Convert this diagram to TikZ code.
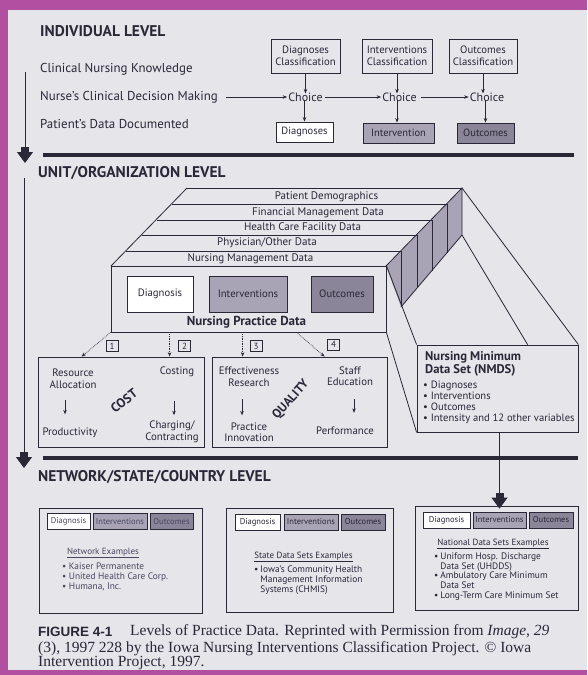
\documentclass[tikz,border=0pt]{standalone}
\usepackage{fontspec}
\setmainfont{Liberation Serif}
\newfontfamily\dsans{PT Sans}
\newfontfamily\capsans{Liberation Sans}
\usetikzlibrary{arrows.meta,calc}
\definecolor{ink}{HTML}{2A2737}
\definecolor{bg}{HTML}{E6E5EA}
\definecolor{mag}{HTML}{B24FA0}
\definecolor{gA}{HTML}{A8A4B5}
\definecolor{gB}{HTML}{8A8598}
\definecolor{fade}{HTML}{4A4660}
\tikzset{
  every node/.style={text=ink, inner sep=0pt},
  head/.style={font=\dsans\bfseries\fontsize{15.5}{17}\selectfont, anchor=west},
  side/.style={font=\dsans\fontsize{12.9}{14}\selectfont, anchor=west},
  cls/.style={draw=ink, line width=0.8pt, font=\dsans\fontsize{10.7}{11.5}\selectfont, align=center},
  bx/.style={draw=ink, line width=0.8pt, font=\dsans\fontsize{10.5}{11.5}\selectfont, align=center},
  ch/.style={font=\dsans\fontsize{12}{13}\selectfont},
  lay/.style={font=\dsans\fontsize{11}{12}\selectfont},
  ibox/.style={draw=ink, line width=0.8pt, font=\dsans\fontsize{10.7}{12}\selectfont},
  sbox/.style={draw=ink, line width=0.7pt, font=\dsans\fontsize{8.5}{9}\selectfont, minimum height=16},
  txt/.style={font=\dsans\fontsize{10.8}{11.5}\selectfont, align=center},
  bul/.style={font=\dsans\fontsize{9.4}{10}\selectfont, align=left, anchor=west},
  shead/.style={font=\dsans\fontsize{9}{10}\selectfont},
  num/.style={draw=ink, line width=0.6pt, font=\dsans\fontsize{9}{10}\selectfont, minimum width=12, minimum height=11},
  frame/.style={draw=ink, line width=0.8pt},
  ln/.style={draw=ink, line width=0.8pt},
  arr/.style={draw=ink, line width=0.7pt, -{Stealth[length=4.5pt,width=3.5pt]}},
  dotarr/.style={draw=ink, line width=0.7pt, densely dotted, -{Stealth[length=4.5pt,width=3.5pt]}},
  fat/.style={draw=ink, line width=0.9pt, -{Rectangle[length=5pt,width=8pt]Triangle[length=11pt,width=16pt]}},
  bar/.style={draw=ink, line width=4pt},
  captxt/.style={font=\fontsize{15.5}{16}\selectfont, anchor=west},
}
\begin{document}
\begin{tikzpicture}[x=1pt,y=-1pt]
\fill[mag] (0,0) rectangle (587,675);
\fill[bg] (8,10) rectangle (587,670);
\useasboundingbox (0,0) rectangle (587,675);

% ---------- INDIVIDUAL LEVEL ----------
\node[head] (ind) at (40,31) {INDIVIDUAL LEVEL};
\node[side] (cnk) at (40,69) {Clinical Nursing Knowledge};
\node[side] (ncd) at (40,97) {Nurse’s Clinical Decision Making};
\node[side] (pdd) at (40,124) {Patient’s Data Documented};

\node[cls, minimum width=69, minimum height=34] (dc) at (305.5,56) {Diagnoses\\Classification};
\node[cls, minimum width=70, minimum height=34] (ic) at (397,56) {Interventions\\Classification};
\node[cls, minimum width=68, minimum height=34] (oc) at (483,56) {Outcomes\\Classification};

\node[ch] (ch1) at (305.5,97) {Choice};
\node[ch] (ch2) at (399.5,97) {Choice};
\node[ch] (ch3) at (487,97) {Choice};

\node[bx, fill=white, minimum width=57, minimum height=20] (db) at (304.5,132) {Diagnoses};
\node[bx, fill=gA, minimum width=71, minimum height=20] (ib) at (398.5,133) {Intervention};
\node[bx, fill=gB, minimum width=57, minimum height=20] (ob) at (485.5,133) {Outcomes};

\draw[arr] (dc.south) -- ([yshift=-1pt]dc.south |- ch1.north);
\draw[arr] (ic.south) -- ([yshift=-1pt]ic.south |- ch2.north);
\draw[arr] (oc.south) -- ([yshift=-1pt]oc.south |- ch3.north);
\draw[arr] ([yshift=2pt]db.north |- ch1.south) -- (db.north);
\draw[arr] ([yshift=2pt]ic.south |- ch2.south) -- (ic.south |- ib.north);
\draw[arr] ([yshift=2pt]ob.north |- ch3.south) -- (ob.north);
\draw[arr] ([xshift=8pt]ncd.east) -- ([xshift=-1pt]ch1.west);
\draw[arr] ([xshift=2pt]ch1.east) -- ([xshift=-1pt]ch2.west);
\draw[arr] ([xshift=4pt]ch2.east) -- ([xshift=-1pt]ch3.west);

\coordinate (t1a) at (43,155);
\coordinate (t1b) at (574,155);
\draw[bar] (t1a) -- (t1b);
\coordinate (v1a) at (25,72);
\coordinate (v1b) at (25,163);
\draw[fat] (v1a) -- (v1b);

% ---------- UNIT / ORGANIZATION LEVEL ----------
\node[head] (unit) at (38,173) {UNIT/ORGANIZATION LEVEL};
\coordinate (v2a) at (24,178);
\coordinate (v2b) at (24,468);
\draw[fat] (v2a) -- (v2b);

% stacked layers
\fill[gA] (386,266) -- (462,188) -- (462,235) -- (401,307) -- cycle;
\draw[ln] (386,266) -- (462,188) -- (462,235) -- (401,307);
\draw[ln] (401,251) -- (401,307);
\draw[ln] (417,235) -- (417,288);
\draw[ln] (432,220) -- (432,270.5);
\draw[ln] (447,204) -- (447,252.5);
\draw[ln] (187,188) -- (462,188);
\draw[ln] (172,204) -- (447,204);
\draw[ln] (157,220) -- (432,220);
\draw[ln] (142,235) -- (417,235);
\draw[ln] (126,251) -- (401,251);
\draw[ln] (111,266) -- (187,188);

\node[lay] (l1) at (326.5,197) {Patient Demographics};
\node[lay] (l2) at (318,212.5) {Financial Management Data};
\node[lay] (l3) at (302.5,228) {Health Care Facility Data};
\node[lay] (l4) at (267,243) {Physician/Other Data};
\node[lay] (l5) at (250.5,259) {Nursing Management Data};

\node[frame, fill=bg, minimum width=275, minimum height=66] (front) at (248.5,299) {};
\node[ibox, fill=white, minimum width=66, minimum height=36] (fd) at (160,294) {Diagnosis};
\node[ibox, fill=gA, minimum width=78, minimum height=36] (fi) at (248,294) {Interventions};
\node[ibox, fill=gB, minimum width=62, minimum height=36] (fo) at (342,294) {Outcomes};
\node[font=\dsans\bfseries\fontsize{13}{14}\selectfont] (npd) at (246.5,322.5) {Nursing Practice Data};

% NMDS
\node[frame, fill=bg, minimum width=161, minimum height=87] (nmds) at (497.5,388.5) {};
\draw[ln] (front.north east) -- (nmds.north west);
\draw[ln] (front.south east) -- (nmds.south west);
\draw[ln] (462,188) -- (nmds.north east);
\draw[ln] (462,235) -- ($(nmds.north west)+(111,0)$);
\node[font=\dsans\bfseries\fontsize{12.6}{13}\selectfont, align=left, anchor=west] (nmt) at (425,363.5) {Nursing Minimum\\Data Set (NMDS)};
\node[font=\dsans\fontsize{10.6}{11}\selectfont, align=left, anchor=west] (nmb) at (423,402) {• Diagnoses\\• Interventions\\• Outcomes\\• Intensity and 12 other variables};

% COST and QUALITY
\node[frame, minimum width=166, minimum height=90] (cost) at (121,402) {};
\node[frame, minimum width=175, minimum height=90] (qual) at (299.5,402) {};

\draw[dotarr] (front.south west) -- ($(cost.north west)+(44,0)$);
\draw[dotarr] ($(front.south west)+(59,0)$) -- ($(cost.north west)+(132,0)$);
\draw[dotarr] ($(front.south west)+(132,0)$) -- ($(qual.north west)+(31,0)$);
\draw[dotarr] ($(front.south west)+(186,0)$) -- ($(qual.north west)+(113,0)$);
\node[num] (n1) at (112,346) {1};
\node[num] (n2) at (184.5,346) {2};
\node[num] (n3) at (256,346) {3};
\node[num] (n4) at (333.5,344.5) {4};

\node[txt] (ra) at (73,378.5) {Resource\\Allocation};
\node[txt] (prod) at (70,433) {Productivity};
\node[txt] (cst) at (177,372) {Costing};
\node[txt] (chg) at (172,432) {Charging/\\Contracting};
\draw[arr] ($(ra.south)+(-8,12)$) -- ($(ra.south)+(-8,26)$);
\draw[arr] ($(cst.south)+(-3,24)$) -- ($(cst.south)+(-3,38)$);
\node[font=\dsans\bfseries\fontsize{13}{14}\selectfont, rotate=38] (costl) at (124,401) {COST};

\node[txt] (eff) at (249,376.5) {Effectiveness\\Research};
\node[txt] (pin) at (249,432) {Practice\\Innovation};
\node[txt] (stf) at (350,376) {Staff\\Education};
\node[txt] (perf) at (345,431) {Performance};
\draw[arr] ($(eff.south)+(-7,13)$) -- ($(eff.south)+(-7,29)$);
\draw[arr] ($(stf.south)+(4,13)$) -- ($(stf.south)+(4,27)$);
\node[font=\dsans\bfseries\fontsize{12.5}{14}\selectfont, rotate=48] (quall) at (291,400) {QUALITY};

\coordinate (t2a) at (43,458);
\coordinate (t2b) at (578,458);
\draw[bar] (t2a) -- (t2b);

% ---------- NETWORK / STATE / COUNTRY ----------
\node[head] (netl) at (38,477) {NETWORK/STATE/COUNTRY LEVEL};

\node[frame, minimum width=163, minimum height=105] (net) at (120.5,560.5) {};
\node[frame, minimum width=167, minimum height=104] (st) at (309.5,560) {};
\node[frame, minimum width=163, minimum height=104] (nat) at (496.5,558) {};

\draw[fat] (nmds.south -| 499.5,0) -- ([yshift=-3pt]nat.north -| 499.5,0);

\node[sbox, fill=white, minimum width=43, text=fade] (nd) at (68.5,521.5) {Diagnosis};
\node[sbox, fill=gA, minimum width=54, text=fade] (ni) at (120,521.5) {Interventions};
\node[sbox, fill=gB, minimum width=43, text=fade] (no) at (171.5,521.5) {Outcomes};
\node[shead, text=fade] (nh) at (103,553) {\underline{Network Examples}};
\node[bul, text=fade] (nbl) at (62,577) {• Kaiser Permanente\\• United Health Care Corp.\\• Humana, Inc.};

\node[sbox, fill=white, minimum width=45] (sd) at (257.5,522) {Diagnosis};
\node[sbox, fill=gA, minimum width=54] (si) at (311,522) {Interventions};
\node[sbox, fill=gB, minimum width=44] (so) at (363,522) {Outcomes};
\node[shead] (sh) at (303.5,557) {\underline{State Data Sets Examples}};
\node[bul] (sbl) at (254,580.5) {\begin{tabular}{@{}l@{\hspace{2pt}}l@{}}•&Iowa’s Community Health\\&Management Information\\&Systems (CHMIS)\end{tabular}};

\node[sbox, fill=white, minimum width=47] (ad) at (446.5,520) {Diagnosis};
\node[sbox, fill=gA, minimum width=53] (ai) at (499.5,520) {Interventions};
\node[sbox, fill=gB, minimum width=44] (ao) at (551,520) {Outcomes};
\node[shead] (ah) at (493,544) {\underline{National Data Sets Examples}};
\node[bul, font=\dsans\fontsize{9.4}{9.9}\selectfont] (abl) at (434,577) {\begin{tabular}{@{}l@{\hspace{2pt}}l@{}}•&Uniform Hosp. Discharge\\&Data Set (UHDDS)\\•&Ambulatory Care Minimum\\&Data Set\\•&Long-Term Care Minimum Set\end{tabular}};

% ---------- Caption ----------
\node[font=\capsans\bfseries\fontsize{13.5}{15}\selectfont, anchor=west] (fig) at (38,632) {FIGURE 4-1};
\node[captxt] (c1) at (130,632) {Levels of Practice Data. Reprinted with Permission from \textit{Image, 29}};
\node[captxt] (c2) at (38,648.5) {(3), 1997 228 by the Iowa Nursing Interventions Classification Project. © Iowa};
\node[captxt] (c3) at (38,663.5) {Intervention Project, 1997.};
\end{tikzpicture}
\end{document}
